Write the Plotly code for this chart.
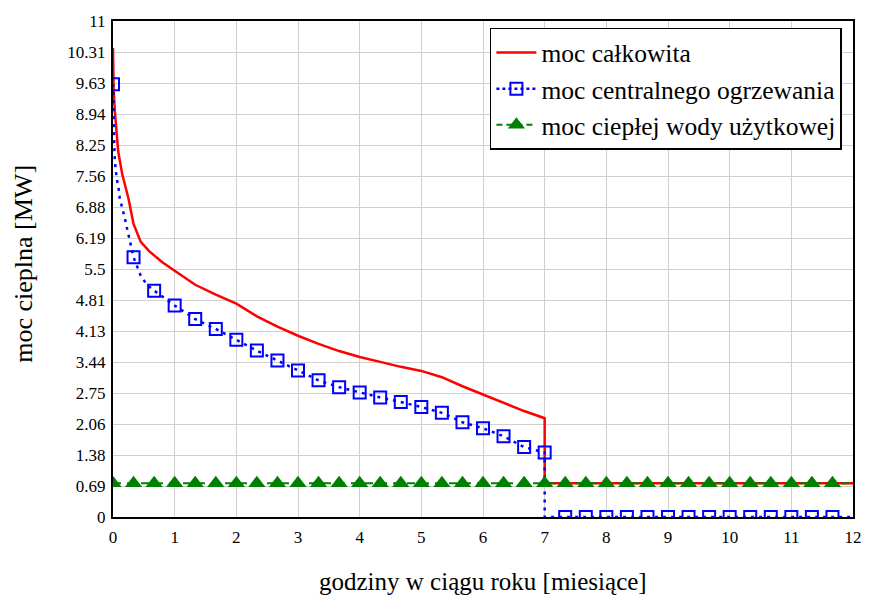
import plotly.graph_objects as go

# ---- data ----
total_x = [0, 0.01, 0.03, 0.05, 0.085, 0.15, 0.25, 0.333, 0.45, 0.59, 0.8, 1.0, 1.333, 1.667,
           2.0, 2.333, 2.667, 3.0, 3.333, 3.667, 4.0, 4.333, 4.667, 5.0, 5.333, 5.667, 6.0,
           6.333, 6.667, 7.0, 7.0, 12]
total_y = [10.4, 9.5, 9.0, 8.6, 8.1, 7.6, 7.07, 6.5, 6.1, 5.89, 5.65, 5.46, 5.15, 4.93,
           4.73, 4.45, 4.22, 4.02, 3.84, 3.68, 3.55, 3.44, 3.33, 3.24, 3.1, 2.9, 2.72,
           2.54, 2.35, 2.19, 0.75, 0.75]

co_x = [0, 0.005, 0.02, 0.03, 0.06, 0.085, 0.11, 0.19, 0.26, 0.333, 0.45, 0.55, 0.667,
        1.0, 1.333, 1.667, 2.0, 2.333, 2.667, 3.0, 3.333, 3.667, 4.0, 4.333, 4.667, 5.0,
        5.333, 5.667, 6.0, 6.333, 6.667, 7.0, 7.0, 12]
co_y = [9.6, 9.0, 8.3, 7.9, 7.5, 7.35, 7.07, 6.63, 6.2, 5.76, 5.35, 5.15, 5.02,
        4.69, 4.39, 4.17, 3.93, 3.69, 3.47, 3.25, 3.03, 2.88, 2.76, 2.65, 2.55, 2.44,
        2.31, 2.10, 1.97, 1.79, 1.55, 1.43, 0, 0]

co_mark_x = [0, 0.333, 0.667, 1.0, 1.333, 1.667, 2.0, 2.333, 2.667, 3.0, 3.333, 3.667,
             4.0, 4.333, 4.667, 5.0, 5.333, 5.667, 6.0, 6.333, 6.667, 7.0, 7.333, 7.667,
             8.0, 8.333, 8.667, 9.0, 9.333, 9.667, 10.0, 10.333, 10.667, 11.0, 11.333, 11.667]
co_mark_y = [9.6, 5.76, 5.02, 4.69, 4.39, 4.17, 3.93, 3.69, 3.47, 3.25, 3.03, 2.88,
             2.76, 2.65, 2.55, 2.44, 2.31, 2.10, 1.97, 1.79, 1.55, 1.43, 0, 0,
             0, 0, 0, 0, 0, 0, 0, 0, 0, 0, 0, 0]

cwu_x = [0, 12]
cwu_y = [0.75, 0.75]
cwu_mark_x = co_mark_x
cwu_mark_y = [0.75] * 36

y_ticks = [0, 0.6875, 1.375, 2.0625, 2.75, 3.4375, 4.125, 4.8125, 5.5, 6.1875, 6.875,
           7.5625, 8.25, 8.9375, 9.625, 10.3125, 11]
y_ticktext = ["0", "0.69", "1.38", "2.06", "2.75", "3.44", "4.13", "4.81", "5.5", "6.19",
              "6.88", "7.56", "8.25", "8.94", "9.63", "10.31", "11"]
x_ticks = list(range(13))

names = ["moc całkowita", "moc centralnego ogrzewania", "moc ciepłej wody użytkowej"]

RED = "#ff0000"
BLUE = "#0000ff"
GREEN = "#008000"
FONT = "Liberation Serif, Times New Roman, serif"

fig = go.Figure()
fig.add_trace(go.Scatter(x=total_x, y=total_y, mode="lines", name=names[0],
                         line=dict(color=RED, width=2.5)))
# central heating: dotted line + square markers
fig.add_trace(go.Scatter(x=co_x, y=co_y, mode="lines", showlegend=False,
                         line=dict(color=BLUE, width=2.5, dash="3px,5px")))
fig.add_trace(go.Scatter(x=co_mark_x, y=co_mark_y, mode="markers", showlegend=False,
                         marker=dict(symbol="square-open", size=12, color=BLUE,
                                     line=dict(width=2, color=BLUE))))
fig.add_trace(go.Scatter(x=[None], y=[None], mode="lines+markers", name=names[1],
                         line=dict(color=BLUE, width=2.5, dash="3px,3px"),
                         marker=dict(symbol="square-open", size=12, color=BLUE,
                                     line=dict(width=2, color=BLUE))))
# hot water: dashed line + triangle markers
fig.add_trace(go.Scatter(x=cwu_x, y=cwu_y, mode="lines", showlegend=False,
                         line=dict(color=GREEN, width=2, dash="8px,6px")))
fig.add_trace(go.Scatter(x=cwu_mark_x, y=cwu_mark_y, mode="markers", showlegend=False,
                         marker=dict(symbol="triangle-up", size=15, color=GREEN)))
fig.add_trace(go.Scatter(x=[None], y=[None], mode="lines+markers", name=names[2],
                         line=dict(color=GREEN, width=2, dash="6px,4px"),
                         marker=dict(symbol="triangle-up", size=15, color=GREEN)))

axis_common = dict(showgrid=True, gridcolor="#d0d0d0", gridwidth=1,
                   showline=True, linecolor="black", linewidth=2, mirror=True,
                   zeroline=False, ticks="",
                   tickfont=dict(family=FONT, size=17, color="black"))

fig.update_xaxes(range=[0, 12], tickvals=x_ticks, ticklabelstandoff=4, **axis_common)
fig.update_yaxes(range=[0, 11], tickvals=y_ticks, ticktext=y_ticktext, ticklabelstandoff=2,
                 **axis_common)

fig.update_layout(
    width=874, height=600,
    margin=dict(l=113, r=15, t=13, b=83),
    plot_bgcolor="white", paper_bgcolor="white",
    font=dict(family=FONT, color="black", size=17),
    legend=dict(x=0.985, y=0.986, xanchor="right", yanchor="top",
                bgcolor="white", bordercolor="black", borderwidth=1.5,
                font=dict(family=FONT, size=25.5, color="black"),
                tracegroupgap=0, itemwidth=40),
    annotations=[
        dict(text="godziny w ciągu roku [miesiące]", xref="paper", yref="paper",
             x=0.5, y=-0.13, xanchor="center", yanchor="middle", showarrow=False,
             font=dict(family=FONT, size=25, color="black")),
        dict(text="moc cieplna [MW]", xref="paper", yref="paper",
             x=-0.122, y=0.51, xanchor="center", yanchor="middle", showarrow=False,
             textangle=-90, font=dict(family=FONT, size=26, color="black")),
    ],
)

fig.write_html("out.html")
